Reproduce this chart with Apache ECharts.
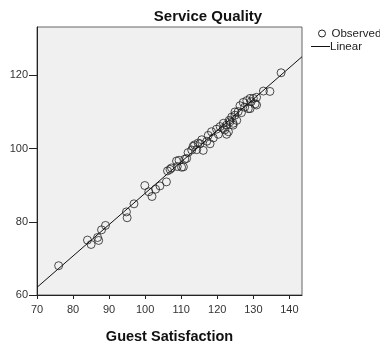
<!DOCTYPE html>
<html><head><meta charset="utf-8">
<script src="https://cdn.jsdelivr.net/npm/echarts@6/dist/echarts.min.js"></script>
<style>html,body{margin:0;padding:0;background:#fff}#c{width:380px;height:349px}</style>
</head><body><div id="c"></div>
<script>
const guestSatisfaction = [76.0, 84.0, 85.0, 86.8, 87.1, 87.9, 89.0, 94.8, 95.0, 96.9, 99.9, 101.0, 101.9, 102.9, 104.1, 105.9, 106.2, 106.9, 107.3, 108.7, 108.9, 109.4, 110.1, 110.6, 111.0, 111.5, 111.9, 112.9, 113.3, 113.7, 114.3, 114.7, 115.2, 115.7, 116.1, 117.1, 117.5, 118.0, 118.4, 118.9, 119.8, 120.3, 120.8, 121.7, 121.7, 122.1, 122.6, 122.6, 123.1, 123.3, 123.5, 124.0, 124.4, 124.4, 124.9, 124.9, 125.4, 125.8, 126.3, 126.7, 127.2, 127.6, 128.2, 128.6, 129.1, 129.1, 129.4, 130.0, 130.5, 130.9, 130.9, 132.8, 134.6, 137.7];
const serviceQuality = [68.0, 75.0, 73.8, 75.7, 74.9, 77.8, 79.0, 82.7, 81.1, 84.9, 89.9, 88.2, 86.9, 88.9, 89.8, 90.9, 93.9, 94.3, 94.7, 96.6, 95.1, 96.8, 94.9, 95.0, 97.1, 97.3, 98.9, 99.6, 100.6, 101.0, 99.7, 101.5, 101.3, 102.4, 99.5, 102.0, 103.6, 101.3, 104.6, 102.9, 105.3, 103.9, 106.0, 106.9, 105.5, 105.1, 106.4, 103.9, 104.6, 107.7, 107.3, 108.6, 106.9, 106.4, 110.0, 109.1, 107.7, 110.1, 111.7, 109.8, 112.6, 111.3, 113.1, 110.9, 113.7, 110.9, 112.8, 113.7, 112.2, 114.0, 111.9, 115.7, 115.6, 120.7];
const fitIntercept = 2.1;   // Linear fit: y = a + b*x
const fitSlope = 0.857;
const xTicks = [70, 80, 90, 100, 110, 120, 130, 140];
const yTicks = [60, 80, 100, 120];
const xRange = [70, 143.5];
const yRange = [60, 133.2];
const legendNames = ['Observed', 'Linear'];

const observed = guestSatisfaction.map((x, i) => [x, serviceQuality[i]]);
const linear = xRange.map(x => [x, fitIntercept + fitSlope * x]);

const chart = echarts.init(document.getElementById('c'), null, {renderer: 'canvas'});
const font = 'Liberation Sans, Arial, sans-serif';
chart.setOption({
  animation: false,
  textStyle: {fontFamily: font},
  title: {
    text: 'Service Quality', left: 203, top: 4, textAlign: 'center',
    textStyle: {fontFamily: font, fontSize: 15, fontWeight: 'bold', color: '#111'}
  },
  graphic: [
    {type: 'circle', shape: {cx: 322, cy: 33.5, r: 3.5}, style: {fill: 'none', stroke: '#222', lineWidth: 1}},
    {type: 'text', x: 331.5, y: 34, style: {text: legendNames[0], font: '11.5px ' + font, fill: '#222', textVerticalAlign: 'middle'}},
    {type: 'line', shape: {x1: 311, y1: 46.5, x2: 330, y2: 46.5}, style: {stroke: '#111', lineWidth: 1}},
    {type: 'text', x: 330, y: 47, style: {text: legendNames[1], font: '11.5px ' + font, fill: '#222', textVerticalAlign: 'middle'}}
  ],
  grid: {
    left: 37, right: 78, top: 27, bottom: 48, show: true,
    backgroundColor: '#f0f0f0', borderColor: '#666', borderWidth: 1
  },
  xAxis: {
    type: 'value', min: xRange[0], max: xRange[1], interval: 10,
    name: 'Guest Satisfaction', nameLocation: 'middle', nameGap: 34,
    nameTextStyle: {fontFamily: font, fontSize: 14.5, fontWeight: 'bold', color: '#111'},
    axisLine: {show: true, lineStyle: {color: '#222', width: 1}},
    axisTick: {show: true, length: 4, lineStyle: {color: '#222'}, customValues: xTicks},
    axisLabel: {fontFamily: font, fontSize: 11, color: '#333', margin: 9, customValues: xTicks},
    splitLine: {show: false}
  },
  yAxis: {
    type: 'value', min: yRange[0], max: yRange[1], interval: 20,
    axisLine: {show: true, lineStyle: {color: '#222', width: 1}},
    axisTick: {show: true, length: 8, lineStyle: {color: '#222'}, customValues: yTicks},
    axisLabel: {fontFamily: font, fontSize: 11, color: '#333', margin: 9, customValues: yTicks},
    splitLine: {show: false}
  },
  series: [
    {
      name: 'Observed', type: 'scatter', data: observed,
      symbol: 'circle', symbolSize: 8,
      itemStyle: {color: 'rgba(0,0,0,0)', borderColor: '#222', borderWidth: 1}
    },
    {
      name: 'Linear', type: 'line', data: linear, symbol: 'none',
      lineStyle: {color: '#111', width: 1}, z: 3
    }
  ]
});
</script></body></html>
